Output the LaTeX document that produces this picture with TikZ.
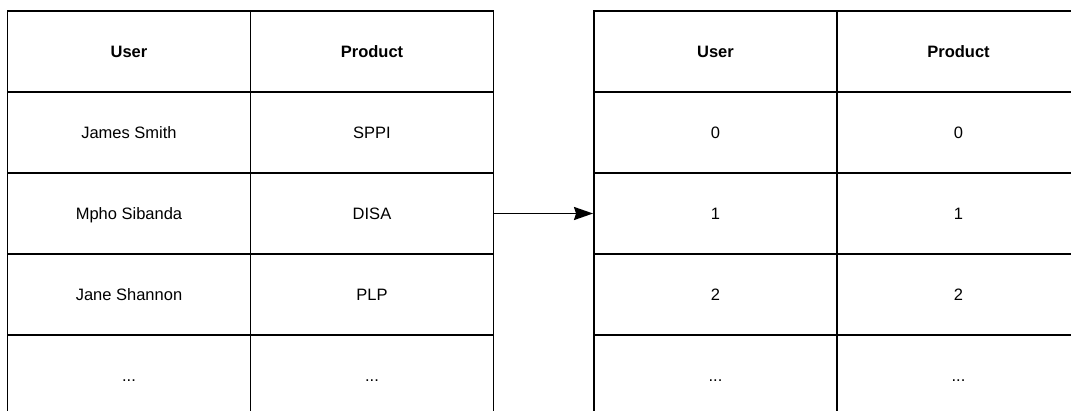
\documentclass[tikz,border=0pt]{standalone}
\usepackage{fontspec}
\setmainfont{Liberation Sans}
\usetikzlibrary{arrows.meta}
\newcommand\moreRows{...}
\begin{document}
\begin{tikzpicture}[x=1pt,y=-1pt,
  cell/.style={draw, line width=1.9pt, minimum width=243pt, minimum height=81pt,
    inner sep=0pt, text height=11.8pt, text depth=0pt, anchor=center,
    font=\fontsize{16.5}{19}\selectfont},
  head/.style={cell, font=\fontsize{16.5}{19}\selectfont\bfseries},
  link/.style={line width=1.9pt, -{Stealth[length=19pt,width=13pt,inset=2pt]}}]
  \useasboundingbox (0,0) rectangle (1071,411);
  \clip (0,0) rectangle (1071,411);

  % source table
  \node[head] (l-0-1) at (129,51.5) {User};
  \node[head] (l-0-2) at (372,51.5) {Product};
  \foreach \u/\p [count=\i] in {James Smith/SPPI, Mpho Sibanda/DISA, Jane Shannon/PLP, \moreRows/\moreRows} {
    \node[cell] (l-\i-1) at (129,51.5+81*\i) {\u};
    \node[cell] (l-\i-2) at (372,51.5+81*\i) {\p};
  }

  % encoded table
  \node[head] (r-0-1) at (715.5,51.5) {User};
  \node[head] (r-0-2) at (958.5,51.5) {Product};
  \foreach \u/\p [count=\i] in {0/0, 1/1, 2/2, \moreRows/\moreRows} {
    \node[cell] (r-\i-1) at (715.5,51.5+81*\i) {\u};
    \node[cell] (r-\i-2) at (958.5,51.5+81*\i) {\p};
  }

  \draw[link] (l-2-2.east) -- (r-2-1.west);
\end{tikzpicture}
\end{document}
